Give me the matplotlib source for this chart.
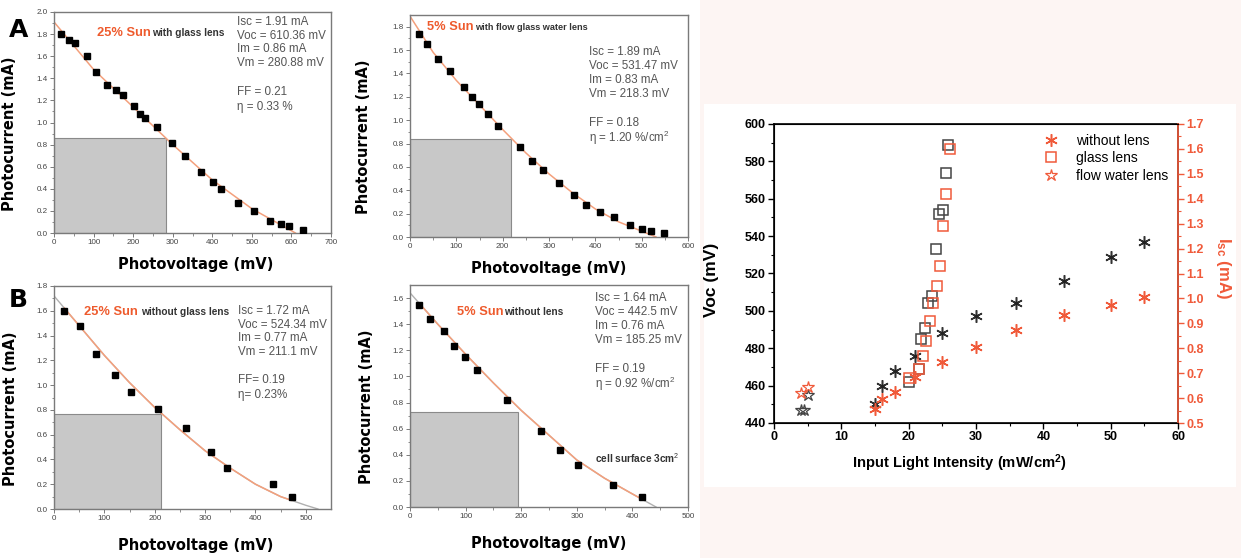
import numpy as np
import matplotlib.pyplot as plt
from matplotlib.patches import Rectangle
from matplotlib.lines import Line2D

plt.rcParams['font.family'] = ['Liberation Sans', 'DejaVu Sans']
plt.rcParams['mathtext.fontset'] = 'custom'
plt.rcParams['mathtext.rm'] = 'Liberation Sans'
plt.rcParams['mathtext.bf'] = 'Liberation Sans:bold'
plt.rcParams['mathtext.it'] = 'Liberation Sans:italic'

W, H = 1241, 558

# ---- panel A (top left): 25% Sun with glass lens
a1_v = [18, 38, 54, 83, 105, 135, 157, 174, 201, 217, 230, 261, 298, 330, 372, 402, 421, 464, 506, 546, 573, 594, 630]
a1_i = [1.80, 1.745, 1.715, 1.60, 1.455, 1.34, 1.29, 1.245, 1.15, 1.08, 1.04, 0.96, 0.81, 0.70, 0.555, 0.46, 0.395, 0.275, 0.20, 0.11, 0.085, 0.065, 0.03]
a1_fit_v = [0, 100, 200, 300, 400, 500, 560, 610]
a1_fit_i = [1.91, 1.48, 1.14, 0.80, 0.48, 0.22, 0.10, 0.0]

# ---- panel A (top right): 5% Sun with flow glass water lens
a2_v = [20, 37, 61, 86, 116, 133, 148, 168, 191, 237, 264, 287, 321, 354, 379, 411, 441, 474, 501, 521, 548]
a2_i = [1.74, 1.655, 1.525, 1.42, 1.28, 1.20, 1.14, 1.05, 0.95, 0.77, 0.65, 0.57, 0.46, 0.36, 0.27, 0.21, 0.17, 0.10, 0.07, 0.05, 0.03]
a2_fit_v = [0, 50, 100, 150, 200, 250, 300, 350, 400, 450, 500, 531]
a2_fit_i = [1.89, 1.58, 1.34, 1.13, 0.92, 0.72, 0.54, 0.38, 0.24, 0.13, 0.05, 0.0]

# ---- panel B (bottom left): 25% Sun without glass lens
b1_v = [20, 52, 83, 121, 153, 206, 262, 312, 344, 434, 473]
b1_i = [1.60, 1.48, 1.255, 1.085, 0.945, 0.81, 0.655, 0.46, 0.33, 0.205, 0.10]
b1_fit_v = [0, 50, 100, 150, 200, 250, 300, 350, 400, 450, 500, 524]
b1_fit_i = [1.72, 1.48, 1.24, 1.02, 0.82, 0.64, 0.47, 0.33, 0.20, 0.10, 0.03, 0.0]

# ---- panel B (bottom right): 5% Sun without lens
b2_v = [17, 36, 61, 80, 99, 120, 174, 235, 269, 302, 365, 418]
b2_i = [1.55, 1.44, 1.35, 1.23, 1.15, 1.05, 0.82, 0.58, 0.44, 0.32, 0.17, 0.08]
b2_fit_v = [0, 50, 100, 150, 200, 250, 300, 350, 400, 442.5]
b2_fit_i = [1.64, 1.40, 1.17, 0.95, 0.74, 0.55, 0.36, 0.22, 0.10, 0.0]

# max power rectangles (Vm, Im) as drawn
rect_v = [282, 219, 213, 195]
rect_i = [0.86, 0.835, 0.765, 0.725]

# ---- right chart: Voc / Isc vs light intensity
nl_x = [15, 16, 18, 21, 25, 30, 36, 43, 50, 55]
nl_voc = [450, 460, 468, 476, 488, 497, 504, 516, 529, 537]
nl_isc_x = [15, 16, 18, 21, 25, 30, 36, 43, 50, 55]
nl_isc = [0.555, 0.595, 0.625, 0.685, 0.745, 0.805, 0.875, 0.935, 0.975, 1.005]

gl_x = [20, 21.5, 21.9, 22.4, 22.8, 23.4, 24, 24.5, 25.1, 25.5, 25.9]
gl_voc = [462, 469, 485, 491, 504, 508, 533, 552, 554, 574, 589]
gl_isc_x = [20.1, 21.6, 22.1, 22.6, 23.1, 23.6, 24.2, 24.6, 25.1, 25.6, 26.1]
gl_isc = [0.68, 0.715, 0.77, 0.83, 0.91, 0.98, 1.05, 1.13, 1.29, 1.42, 1.60]

fw_x = [4.0, 4.4, 5.0]
fw_voc = [447, 447, 455]
fw_isc_x = [4.0, 5.0]
fw_isc = [0.62, 0.645]

ORANGE = '#ee5a2c'
RED = '#f05a3a'
GREY_TXT = '#555555'
LABEL_FONT = 'DejaVu Sans'
SUN_FS = 9.3
SUB_FS = 7.3
STAT_FS = 8.4


def box(l, t, r, b):
    return fig.add_axes([l / W, 1 - b / H, (r - l) / W, (b - t) / H])


def ftext(x, y, s, **kw):
    fig.text(x / W, 1 - y / H, s, **kw)


def small_panel(ax, v, i, fv, fi, rv, ri, xmax, ymax, yticks, clip_ends):
    ax.add_patch(Rectangle((0, 0), rv, ri, facecolor='#c8c8c8', edgecolor='#8a8a8a', lw=0.8, zorder=1))
    if clip_ends:
        ax.plot(fv, fi, color='#b0b0b0', lw=1.0, zorder=2)
        ln, = ax.plot(fv, fi, color='#f4a07c', lw=1.1, zorder=3)
        clip = Rectangle((min(v), 0), max(v) - min(v), ymax, transform=ax.transData)
        ln.set_clip_path(clip)
    else:
        ax.plot(fv, fi, color='#f4a07c', lw=1.1, zorder=2)
    ax.plot(v, i, 's', color='black', ms=4.5, zorder=4)
    ax.set_xlim(0, xmax)
    ax.set_ylim(0, ymax)
    ax.set_yticks(yticks)
    ax.set_yticklabels(['%.1f' % y for y in yticks])
    ax.set_xticks(np.arange(0, xmax + 1, 100))
    ax.set_xticks(np.arange(50, xmax, 100), minor=True)
    ax.set_yticks(np.arange(0.1, ymax, 0.2), minor=True)
    for s in ax.spines.values():
        s.set_color('#7a7a7a')
        s.set_linewidth(1.0)
    ax.tick_params(which='major', direction='out', length=3, width=0.7, colors='#7a7a7a',
                   labelsize=5.8, labelcolor='#444444', pad=1.5)
    ax.tick_params(which='minor', direction='out', length=1.8, width=0.6, colors='#7a7a7a')
    ax.set_xlabel('Photovoltage (mV)', fontsize=10.5, fontweight='bold', family=LABEL_FONT)
    ax.set_ylabel('Photocurrent (mA)', fontsize=10.5, fontweight='bold', family=LABEL_FONT)


def stats(x, y0, lines, ff, eta, step=13.7, gap=29):
    for k, s in enumerate(lines):
        ftext(x, y0 + step * k, s, color=GREY_TXT, fontsize=STAT_FS, va='center')
    yff = y0 + step * 3 + gap
    ftext(x, yff, ff, color=GREY_TXT, fontsize=STAT_FS, va='center')
    ftext(x, yff + 14.5, eta, color=GREY_TXT, fontsize=STAT_FS, va='center')


fig = plt.figure(figsize=(12.41, 5.58), dpi=100)
fig.patch.set_facecolor('white')

# pink backdrop for the right chart, then white card
fig.add_artist(Rectangle((700 / W, 0), 541 / W, 1, transform=fig.transFigure,
                         facecolor='#fdf5f3', edgecolor='none', zorder=0))
fig.add_artist(Rectangle((704 / W, 1 - 487 / H), 532 / W, 383 / H, transform=fig.transFigure,
                         facecolor='white', edgecolor='none', zorder=0))

# ---- A1
ax1 = box(54, 12, 331, 233)
small_panel(ax1, a1_v, a1_i, a1_fit_v, a1_fit_i, rect_v[0], rect_i[0], 700, 2.0,
            np.arange(0, 2.01, 0.2), False)
ax1.yaxis.set_label_coords(-0.135, 0.45)
ax1.xaxis.set_label_coords(0.51, -0.11)
ftext(97, 33, '25% Sun', color=ORANGE, fontsize=SUN_FS, fontweight='bold', va='center')
ftext(152, 33, 'with glass lens', color='#333333', fontsize=SUB_FS, fontweight='bold', va='center')
stats(237, 22, ['Isc = 1.91 mA', 'Voc = 610.36 mV', 'Im = 0.86 mA', 'Vm = 280.88 mV'],
      'FF = 0.21', 'η = 0.33 %', gap=29)
ftext(9, 30, 'A', fontsize=18, fontweight='bold', va='center', family=LABEL_FONT)

# ---- A2
ax2 = box(410, 15, 688, 237)
small_panel(ax2, a2_v, a2_i, a2_fit_v, a2_fit_i, rect_v[1], rect_i[1], 600, 1.9,
            np.arange(0, 1.81, 0.2), False)
ax2.yaxis.set_label_coords(-0.14, 0.45)
ax2.xaxis.set_label_coords(0.5, -0.11)
ftext(427, 27, '5% Sun', color=ORANGE, fontsize=SUN_FS, fontweight='bold', va='center')
ftext(475, 27, 'with flow glass water lens', color='#333333', fontsize=6.6, fontweight='bold', va='center')
stats(589, 52, ['Isc = 1.89 mA', 'Voc = 531.47 mV', 'Im = 0.83 mA', 'Vm = 218.3 mV'],
      'FF = 0.18', 'η = 1.20 %/cm$^2$', step=14, gap=29)

# ---- B1
ax3 = box(54, 286, 331, 509)
small_panel(ax3, b1_v, b1_i, b1_fit_v, b1_fit_i, rect_v[2], rect_i[2], 550, 1.8,
            np.arange(0, 1.81, 0.2), True)
ax3.set_xticks(np.arange(0, 501, 100))
ax3.yaxis.set_label_coords(-0.13, 0.45)
ax3.xaxis.set_label_coords(0.51, -0.13)
ftext(84, 312, '25% Sun', color=ORANGE, fontsize=SUN_FS, fontweight='bold', va='center')
ftext(141, 312, 'without glass lens', color='#333333', fontsize=SUB_FS, fontweight='bold', va='center')
stats(238, 311, ['Isc = 1.72 mA', 'Voc = 524.34 mV', 'Im = 0.77 mA', 'Vm = 211.1 mV'],
      'FF= 0.19', 'η= 0.23%', gap=28)
ftext(9, 300, 'B', fontsize=18, fontweight='bold', va='center', family=LABEL_FONT)

# ---- B2
ax4 = box(410, 285, 688, 507)
small_panel(ax4, b2_v, b2_i, b2_fit_v, b2_fit_i, rect_v[3], rect_i[3], 500, 1.7,
            np.arange(0, 1.61, 0.2), True)
ax4.yaxis.set_label_coords(-0.13, 0.45)
ax4.xaxis.set_label_coords(0.5, -0.13)
ftext(457, 312, '5% Sun', color=ORANGE, fontsize=SUN_FS, fontweight='bold', va='center')
ftext(504, 312, 'without lens', color='#333333', fontsize=SUB_FS, fontweight='bold', va='center')
stats(595, 298, ['Isc = 1.64 mA', 'Voc = 442.5 mV', 'Im = 0.76 mA', 'Vm = 185.25 mV'],
      'FF = 0.19', 'η = 0.92 %/cm$^2$', step=14, gap=29)
ftext(595, 458, 'cell surface 3cm$^2$', color='#333333', fontsize=SUB_FS, fontweight='bold', va='center')

# ---- right chart
ax = box(774, 124, 1178, 423)
ax.set_facecolor('none')
ast = (6, 2, 0)
ax.plot(nl_x, nl_voc, ls='none', marker=ast, ms=9, mec='#333333', mew=1.1)
ax.plot(nl_x, nl_voc, ls='none', marker='o', ms=1.8, color='#222222')
ax.plot(gl_x, gl_voc, ls='none', marker='s', ms=7, mfc='none', mec='#444444', mew=1.1)
ax.plot(fw_x, fw_voc, ls='none', marker='*', ms=9, mfc='none', mec='#444444', mew=0.9)
ax.set_xlim(0, 60)
ax.set_ylim(440, 600)
ax.set_xticks(np.arange(0, 61, 10))
ax.set_xticks(np.arange(5, 60, 10), minor=True)
ax.set_yticks(np.arange(440, 601, 20))
ax.set_yticks(np.arange(450, 600, 20), minor=True)
ax.tick_params(which='major', direction='out', length=4, width=1.0, labelsize=9, pad=2)
ax.tick_params(which='minor', direction='out', length=2.5, width=0.8)
for lab in ax.get_xticklabels() + ax.get_yticklabels():
    lab.set_fontweight('bold')
for s in ax.spines.values():
    s.set_linewidth(1.2)
ax.set_xlabel('Input Light Intensity (mW/cm$^\\mathbf{2}$)', fontsize=10.6, fontweight='bold')
ax.xaxis.set_label_coords(0.46, -0.1)
ax.set_ylabel('Voc (mV)', fontsize=12.5, fontweight='bold')
ax.yaxis.set_label_coords(-0.135, 0.48)

bx = ax.twinx()
bx.plot(nl_isc_x, nl_isc, ls='none', marker=ast, ms=9, mec=RED, mew=1.1)
bx.plot(nl_isc_x, nl_isc, ls='none', marker='o', ms=1.8, color=RED)
bx.plot(gl_isc_x, gl_isc, ls='none', marker='s', ms=7, mfc='none', mec=RED, mew=1.1)
bx.plot(fw_isc_x, fw_isc, ls='none', marker='*', ms=9, mfc='none', mec=RED, mew=0.9)
bx.set_ylim(0.5, 1.7)
bx.set_yticks(np.arange(0.5, 1.71, 0.1))
bx.set_yticks(np.arange(0.55, 1.7, 0.1), minor=True)
bx.set_yticklabels(['%.1f' % y for y in np.arange(0.5, 1.71, 0.1)])
bx.spines['right'].set_color(RED)
bx.spines['right'].set_linewidth(1.2)
bx.tick_params(axis='y', which='major', direction='out', length=4, width=1.0, colors=RED, labelsize=9, pad=2)
bx.tick_params(axis='y', which='minor', direction='out', length=2.5, width=0.8, colors=RED)
for lab in bx.get_yticklabels():
    lab.set_fontweight('bold')
bx.set_ylabel('$\\mathbf{I_{sc}}$ (mA)', fontsize=12, fontweight='bold', color=RED, rotation=270)
bx.yaxis.set_label_coords(1.135, 0.52)

handles = [Line2D([], [], ls='none', marker=ast, ms=9, mec=RED, mew=1.1),
           Line2D([], [], ls='none', marker='s', ms=7, mfc='none', mec=RED, mew=1.1),
           Line2D([], [], ls='none', marker='*', ms=9, mfc='none', mec=RED, mew=0.9)]
bx.legend(handles, ['without lens', 'glass lens', 'flow water lens'], loc='upper right',
          frameon=False, fontsize=10, handletextpad=0.8, borderaxespad=0.3, labelspacing=0.25,
          bbox_to_anchor=(1.0, 1.0))

fig.savefig('out.png', dpi=100)
